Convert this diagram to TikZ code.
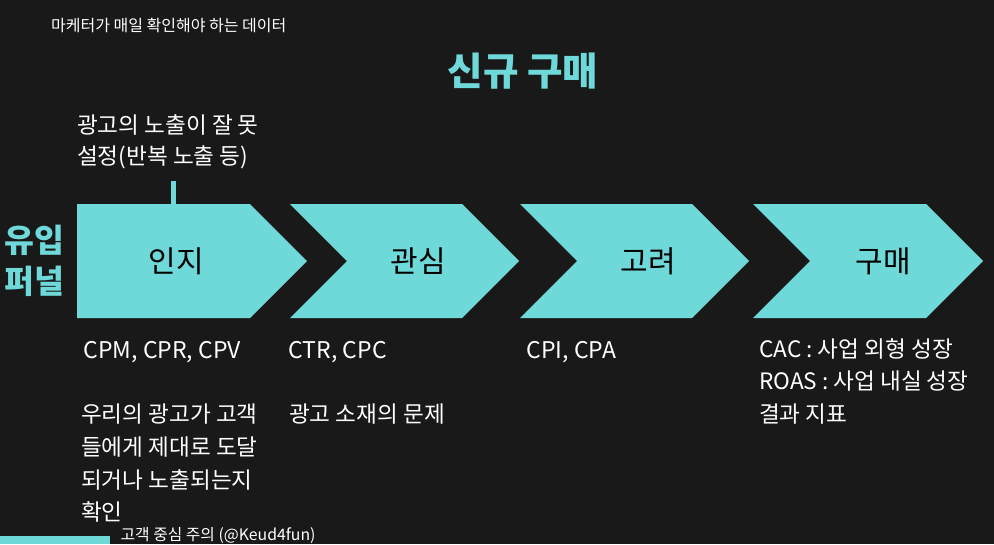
\documentclass[tikz,border=0pt]{standalone}
\usepackage{fontspec}
\setmainfont{Noto Sans CJK KR}
\definecolor{bg}{HTML}{191919}
\definecolor{teal}{HTML}{6FD9D9}
\tikzset{
 chev/.style={fill=teal,draw=none},
 txt/.style={text=white,font=\fontsize{22.6pt}{22.6pt}\selectfont,anchor=west,inner sep=0pt},
 lat/.style={text=white,font=\fontsize{23pt}{23pt}\selectfont,anchor=west,inner sep=0pt},
 stage/.style={text=black,font=\fontsize{30pt}{30pt}\selectfont,inner sep=0pt},
 head/.style={text=teal,font=\fontsize{38.6pt}{38.6pt}\selectfont\bfseries,inner sep=0pt},
 funnel/.style={text=teal,font=\fontsize{32.5pt}{32.5pt}\selectfont\bfseries,inner sep=0pt},
 small/.style={text=white,font=\fontsize{16pt}{16pt}\selectfont,anchor=west,inner sep=0pt}
}
\begin{document}
\begin{tikzpicture}[x=1pt,y=-1pt]
\useasboundingbox (0,0) rectangle (994,544);
\fill[bg] (0,0) rectangle (994,544);
\fill[chev] (77,204) -- (250,204) -- (307,261) -- (250,318) -- (77,318) -- cycle;
\fill[chev] (290,204) -- (462,204) -- (519,261) -- (462,318) -- (290,318) -- (347,261) -- cycle;
\fill[chev] (520,204) -- (692,204) -- (749,261) -- (692,318) -- (520,318) -- (577,261) -- cycle;
\fill[chev] (753,204) -- (926,204) -- (983,261) -- (926,318) -- (753,318) -- (810,261) -- cycle;
\fill[teal] (171,180.5) rectangle (175.5,204);
\fill[teal] (0,536) rectangle (110,544);
\node[small] (a) at (51,25) {마케터가 매일 확인해야 하는 데이터};
\node[head] (b) at (523,71) {신규 구매};
\node[txt] (c) at (77,124.5) {광고의 노출이 잘 못};
\node[txt] (d) at (77,157.5) {설정(반복 노출 등)};
\node[funnel] (e) at (34,240) {유입};
\node[funnel] (f) at (34,281) {퍼널};
\node[stage] (s1) at (176,261) {인지};
\node[stage] (s2) at (418,261) {관심};
\node[stage] (s3) at (648,261) {고려};
\node[stage] (s4) at (883,261) {구매};
\node[lat] (g) at (83.5,352) {CPM, CPR, CPV};
\node[lat] (h) at (288.5,352) {CTR, CPC};
\node[lat] (i) at (526.5,352) {CPI, CPA};
\node[txt] (j) at (759,348.5) {CAC : 사업 외형 성장};
\node[txt] (k) at (759,381.5) {ROAS : 사업 내실 성장};
\node[txt] (l) at (759,414.5) {결과 지표};
\node[txt] (m) at (81,414.5) {우리의 광고가 고객};
\node[txt] (n) at (81,447.5) {들에게 제대로 도달};
\node[txt] (o) at (81,479.5) {되거나 노출되는지};
\node[txt] (p) at (81,511.5) {확인};
\node[txt] (q) at (289,414.5) {광고 소재의 문제};
\node[small,font=\fontsize{15.8pt}{15.8pt}\selectfont] (r) at (120.5,536) {고객 중심 주의 (@Keud4fun)};
\end{tikzpicture}
\end{document}
